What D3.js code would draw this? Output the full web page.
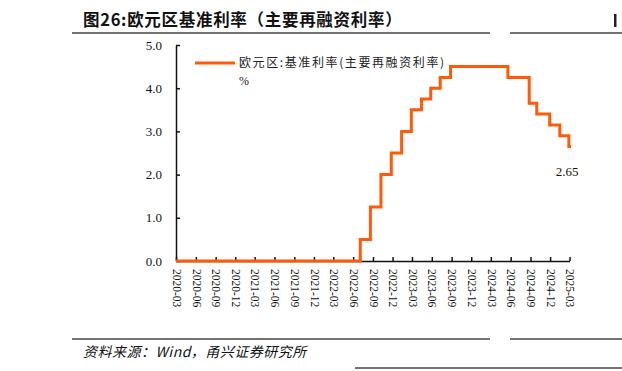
<!DOCTYPE html>
<html>
<head>
<meta charset="utf-8">
<script src="https://cdn.jsdelivr.net/npm/d3@7"></script>
<style>
  body { margin: 0; background: #fff; }
  svg { display: block; }
</style>
</head>
<body>
<svg id="chart" width="622" height="371"></svg>
<script>
// dates where the rate changes and the rate from that date on
const changeDates = [
  "2020-03-01", "2022-07-04", "2022-08-20", "2022-10-08", "2022-11-25",
  "2023-01-12", "2023-02-26", "2023-04-14", "2023-05-27", "2023-07-10",
  "2023-08-27", "2024-05-19", "2024-08-26", "2024-09-30", "2024-11-29",
  "2025-01-15", "2025-02-26", "2025-03-08"
];
const rates = [
  0.0, 0.5, 1.25, 2.0, 2.5,
  3.0, 3.5, 3.75, 4.0, 4.25,
  4.5, 4.25, 3.65, 3.4, 3.15,
  2.9, 2.65, 2.65
];
const tickLabels = [
  "2020-03", "2020-06", "2020-09", "2020-12", "2021-03", "2021-06", "2021-09",
  "2021-12", "2022-03", "2022-06", "2022-09", "2022-12", "2023-03", "2023-06",
  "2023-09", "2023-12", "2024-03", "2024-06", "2024-09", "2024-12", "2025-03"
];
const yTicks = [0, 1, 2, 3, 4, 5];
const seriesName = "欧元区:基准利率(主要再融资利率)";
const unitLabel = "%";
const lastLabel = "2.65";

const parse = d3.timeParse("%Y-%m-%d");
const parseMonth = d3.timeParse("%Y-%m");
const data = changeDates.map((d, i) => ({ date: parse(d), value: rates[i] }));
const tickDates = tickLabels.map(parseMonth);

const svg = d3.select("#chart");
const orange = "#ff5a0a";
const serif = "'Liberation Serif', 'Times New Roman', serif";
const cjk = "'Noto Sans CJK SC', sans-serif";

// header and footer rules
const rules = [
  [72, 490, 33], [510, 622, 33],
  [72, 490, 339], [510, 622, 339],
  [355, 622, 368]
];
svg.selectAll("line.rule")
  .data(rules)
  .enter()
  .append("line")
  .attr("x1", (d) => d[0])
  .attr("x2", (d) => d[1])
  .attr("y1", (d) => d[2])
  .attr("y2", (d) => d[2])
  .attr("stroke", "#444")
  .attr("stroke-width", 1.5);

svg.append("text")
  .attr("x", 83)
  .attr("y", 26)
  .attr("font-family", cjk)
  .attr("font-weight", "bold")
  .attr("font-size", 16.5)
  .attr("letter-spacing", 0.7)
  .attr("fill", "#111")
  .text("图26:欧元区基准利率（主要再融资利率）");

// sliver of the neighbouring figure's title, cut off by the page edge
svg.append("rect")
  .attr("x", 614)
  .attr("y", 14)
  .attr("width", 2.5)
  .attr("height", 13)
  .attr("fill", "#222");

svg.append("text")
  .attr("x", 83)
  .attr("y", 357)
  .attr("font-family", cjk)
  .attr("font-style", "italic")
  .attr("font-size", 14)
  .attr("letter-spacing", 0.5)
  .attr("fill", "#111")
  .text("资料来源：Wind，甬兴证券研究所");

let scX = d3.scaleTime()
  .domain([tickDates[0], tickDates[tickDates.length - 1]])
  .range([176, 569.5]);
let scY = d3.scaleLinear().domain([0, 5]).range([261, 45]);

let yAxis = d3.axisLeft(scY)
  .tickValues(yTicks)
  .tickFormat(d3.format(".1f"))
  .tickSizeInner(-4)
  .tickSizeOuter(0)
  .tickPadding(14);

let gy = svg.append("g")
  .attr("transform", "translate(176,0)")
  .call(yAxis);
gy.selectAll("text")
  .attr("font-family", serif)
  .attr("font-size", 13)
  .attr("fill", "#111");

let xAxis = d3.axisBottom(scX)
  .tickValues(tickDates)
  .tickFormat((d, i) => tickLabels[i])
  .tickSizeInner(-4)
  .tickSizeOuter(0);

let gx = svg.append("g")
  .attr("transform", "translate(0,261)")
  .call(xAxis);
gx.selectAll("text")
  .attr("font-family", serif)
  .attr("font-size", 11.5)
  .attr("fill", "#111")
  .attr("x", 0)
  .attr("y", 0)
  .attr("dy", "0.33em")
  .attr("transform", "translate(0,8) rotate(90)")
  .style("text-anchor", "start");

svg.selectAll(".domain, .tick line")
  .attr("stroke", "#111")
  .attr("stroke-width", 1.5);

let line = d3.line()
  .curve(d3.curveStepAfter)
  .x((d) => scX(d.date))
  .y((d) => scY(d.value));

svg.append("path")
  .datum(data)
  .attr("fill", "none")
  .attr("stroke", orange)
  .attr("stroke-width", 3)
  .attr("d", line);

// last value label
let last = data[data.length - 1];
svg.append("text")
  .attr("x", scX(last.date) - 4)
  .attr("y", scY(last.value) + 29)
  .attr("text-anchor", "middle")
  .attr("font-family", serif)
  .attr("font-size", 13)
  .attr("fill", "#111")
  .text(lastLabel);

// legend
let lg = svg.append("g").attr("transform", "translate(195,63)");
lg.append("line")
  .attr("x1", 0).attr("x2", 40)
  .attr("stroke", orange)
  .attr("stroke-width", 3);
lg.append("text")
  .attr("x", 44)
  .attr("y", 4)
  .attr("font-family", cjk)
  .attr("font-size", 12)
  .attr("letter-spacing", 1.6)
  .attr("fill", "#222")
  .text(seriesName);
lg.append("text")
  .attr("x", 44)
  .attr("y", 22)
  .attr("font-family", serif)
  .attr("font-size", 12)
  .attr("fill", "#222")
  .text(unitLabel);
</script>
</body>
</html>
